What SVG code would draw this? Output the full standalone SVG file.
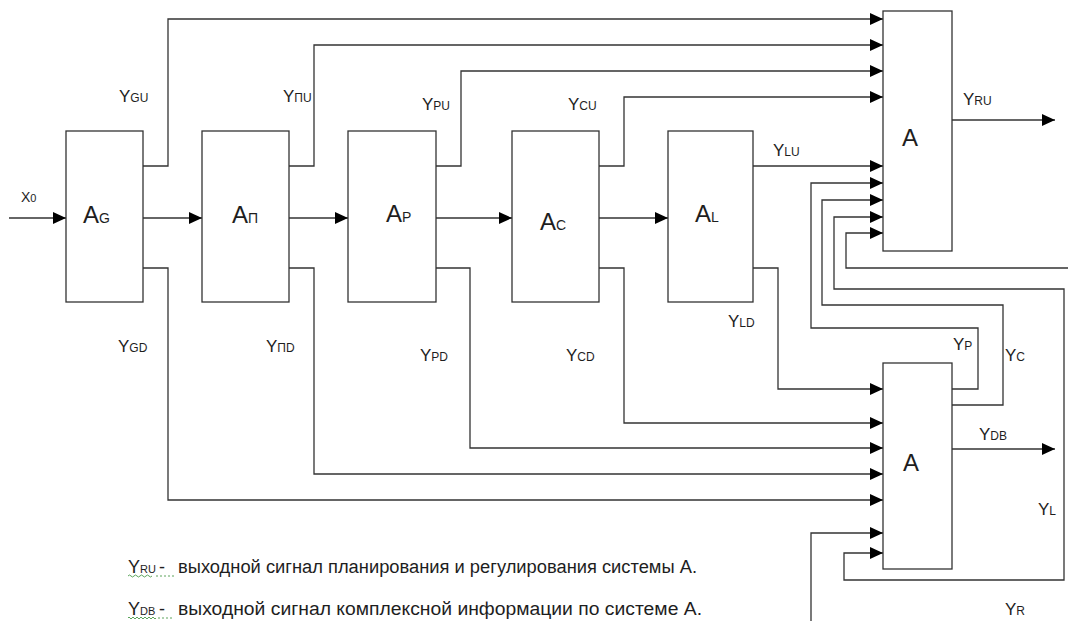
<svg xmlns="http://www.w3.org/2000/svg" width="1068" height="621" viewBox="0 0 1068 621">
  <style>
    .box { fill: #fff; stroke: #333; stroke-width: 1.3; }
    .wire { fill: none; stroke: #333; stroke-width: 1.3; }
    .arr { marker-end: url(#ah); }
    text { font-family: "Liberation Sans", Arial, sans-serif; fill: #1e1e1e; }
    .big { font-size: 24px; }
    .bsub { font-size: 14px; }
    .sig { font-size: 17px; }
    .ssub { font-size: 12px; }
    .note { font-size: 18px; }
    .nsub { font-size: 11px; }
    .squig { fill: none; stroke: #4a9a4a; stroke-width: 0.9; }
  </style>
  <defs>
    <marker id="ah" viewBox="0 0 13 12" refX="13" refY="6" markerWidth="13" markerHeight="12" markerUnits="userSpaceOnUse" orient="auto">
      <path d="M0,0 L13,6 L0,12 Z" fill="#000"/>
    </marker>
  </defs>

  <!-- connectors -->
  <g id="connectors">
    <!-- main chain -->
    <path class="wire arr" d="M9,218 H66"/>
    <path class="wire arr" d="M143,218 H202"/>
    <path class="wire arr" d="M289,218 H348"/>
    <path class="wire arr" d="M436,218 H512"/>
    <path class="wire arr" d="M599,218 H668"/>

    <!-- upward signals into the upper A -->
    <path class="wire arr" d="M143,166 H168 V19 H883"/>
    <path class="wire arr" d="M289,166 H314 V45 H883"/>
    <path class="wire arr" d="M436,166 H461 V71 H883"/>
    <path class="wire arr" d="M599,166 H624 V97 H883"/>
    <path class="wire arr" d="M753,166 H883"/>

    <!-- downward signals into the lower A -->
    <path class="wire arr" d="M753,268 H778 V389 H883"/>
    <path class="wire arr" d="M599,268 H624 V423 H883"/>
    <path class="wire arr" d="M436,268 H470 V448 H883"/>
    <path class="wire arr" d="M289,268 H314 V474 H883"/>
    <path class="wire arr" d="M143,268 H168 V500 H883"/>

    <!-- feedback from lower A to upper A -->
    <path class="wire arr" d="M952,389 H978 V328 H811 V183 H883"/>
    <path class="wire arr" d="M952,405 H1003 V305 H822 V200 H883"/>

    <!-- YL loop -->
    <path class="wire arr" d="M1064,420 V289 H834 V217 H883"/>
    <path class="wire arr" d="M1064,420 V580 H844 V553 H883"/>

    <!-- YR inputs -->
    <path class="wire arr" d="M1068,268 H846 V233 H883"/>
    <path class="wire arr" d="M811,621 V533 H883"/>

    <!-- outputs -->
    <path class="wire arr" d="M952,120 H1055"/>
    <path class="wire arr" d="M952,449 H1055"/>
  </g>

  <!-- blocks -->
  <g id="node-ag">
    <rect class="box" x="66" y="131" width="77" height="171"/>
    <text x="83" y="223"><tspan class="big">A</tspan><tspan class="bsub">G</tspan></text>
  </g>
  <g id="node-ap1">
    <rect class="box" x="202" y="131" width="87" height="171"/>
    <text x="232" y="223"><tspan class="big">A</tspan><tspan class="bsub">П</tspan></text>
  </g>
  <g id="node-ap">
    <rect class="box" x="348" y="131" width="88" height="171"/>
    <text x="386" y="222"><tspan class="big">A</tspan><tspan class="bsub">P</tspan></text>
  </g>
  <g id="node-ac">
    <rect class="box" x="512" y="131" width="87" height="171"/>
    <text x="540" y="230"><tspan class="big">A</tspan><tspan class="bsub">C</tspan></text>
  </g>
  <g id="node-al">
    <rect class="box" x="668" y="131" width="85" height="171"/>
    <text x="695" y="222"><tspan class="big">A</tspan><tspan class="bsub">L</tspan></text>
  </g>
  <g id="node-a-upper">
    <rect class="box" x="883" y="11" width="69" height="240"/>
    <text class="big" x="902" y="146">A</text>
  </g>
  <g id="node-a-lower">
    <rect class="box" x="883" y="363" width="69" height="206"/>
    <text class="big" x="903" y="471">A</text>
  </g>

  <!-- signal labels -->
  <g id="labels">
    <text x="21" y="202"><tspan style="font-size:14px">X</tspan><tspan style="font-size:11px">0</tspan></text>
    <text x="119" y="102"><tspan class="sig">Y</tspan><tspan class="ssub">GU</tspan></text>
    <text x="283" y="102"><tspan class="sig">Y</tspan><tspan class="ssub">ПU</tspan></text>
    <text x="422" y="110"><tspan class="sig">Y</tspan><tspan class="ssub">PU</tspan></text>
    <text x="568" y="110"><tspan class="sig">Y</tspan><tspan class="ssub">CU</tspan></text>
    <text x="773" y="156"><tspan class="sig">Y</tspan><tspan class="ssub">LU</tspan></text>
    <text x="963" y="105"><tspan class="sig">Y</tspan><tspan class="ssub">RU</tspan></text>
    <text x="118" y="352"><tspan class="sig">Y</tspan><tspan class="ssub">GD</tspan></text>
    <text x="266" y="352"><tspan class="sig">Y</tspan><tspan class="ssub">ПD</tspan></text>
    <text x="420" y="361"><tspan class="sig">Y</tspan><tspan class="ssub">PD</tspan></text>
    <text x="566" y="361"><tspan class="sig">Y</tspan><tspan class="ssub">CD</tspan></text>
    <text x="728" y="327"><tspan class="sig">Y</tspan><tspan class="ssub">LD</tspan></text>
    <text x="953" y="350"><tspan class="sig">Y</tspan><tspan class="ssub">P</tspan></text>
    <text x="1005" y="361"><tspan class="sig">Y</tspan><tspan class="ssub">C</tspan></text>
    <text x="979" y="440"><tspan class="sig">Y</tspan><tspan class="ssub">DB</tspan></text>
    <text x="1038" y="515"><tspan class="sig">Y</tspan><tspan class="ssub">L</tspan></text>
    <text x="1005" y="615"><tspan class="sig">Y</tspan><tspan class="ssub">R</tspan></text>
  </g>

  <!-- legend -->
  <g id="legend">
    <text x="128" y="573"><tspan class="note">Y</tspan><tspan class="nsub">RU</tspan><tspan class="note" x="159">-</tspan></text>
    <text class="note" x="178" y="573" textLength="519" lengthAdjust="spacingAndGlyphs">выходной сигнал планирования и регулирования системы А.</text>
    <path class="squig" d="M128,576 q1.5,-2 3,0 t3,0 t3,0 t3,0 t3,0 t3,0 t3,0 t3,0"/>
    <path class="squig" d="M156,576 h2 m2,0 h2 m2,0 h2 m2,0 h2 m2,0 h2"/>
    <text x="128" y="615"><tspan class="note">Y</tspan><tspan class="nsub">DB</tspan><tspan class="note" x="159">-</tspan></text>
    <text class="note" x="178" y="615" textLength="524" lengthAdjust="spacingAndGlyphs">выходной сигнал комплексной информации по системе А.</text>
    <path class="squig" d="M128,618 q1,-2 2,0 t2,0 t2,0 t2,0 t2,0 t2,0 t2,0 t2,0 t2,0 t2,0 t2,0 t2,0 t2,0 t2,0"/>
    <path class="squig" d="M158,618 h2 m2,0 h2 m2,0 h2 m2,0 h2"/>
  </g>
</svg>
